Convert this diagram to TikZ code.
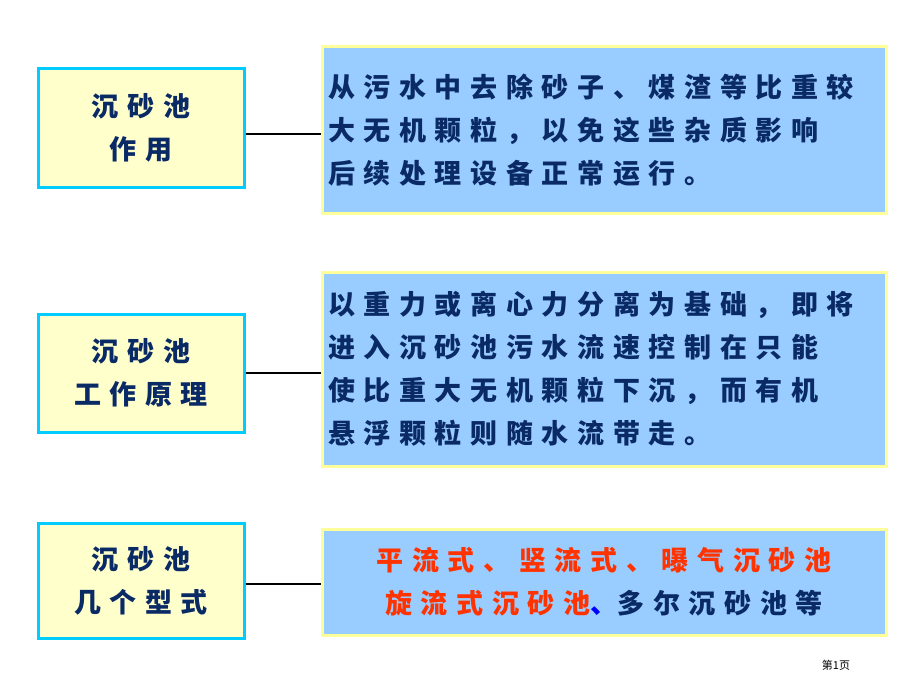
\documentclass[tikz,border=0pt]{standalone}
\usepackage{fontspec}
\newfontfamily\cjk[LetterSpace=32]{Noto Sans CJK SC}
\newfontfamily\cjkp{Noto Sans CJK SC}
\definecolor{navy}{HTML}{0A2A66}
\definecolor{lyel}{HTML}{FFFFCC}
\definecolor{cyanb}{HTML}{00CCFF}
\definecolor{lblue}{HTML}{99CCFF}
\definecolor{yelb}{HTML}{FFFF99}
\definecolor{redt}{HTML}{FF3300}
\begin{document}
\begin{tikzpicture}[x=1pt,y=-1pt,
 lbox/.style={draw=cyanb,line width=3pt,fill=lyel,minimum width=206pt,align=center,font=\cjk\bfseries\fontsize{27}{43}\selectfont,text=navy},
 rbox/.style={draw=yelb,line width=3pt,fill=lblue,minimum width=564pt,align=left,font=\cjk\bfseries\fontsize{27}{43}\selectfont,text=navy},
 conn/.style={line width=2pt,black}]
\useasboundingbox (0,0) rectangle (920,690);
\fill[white] (0,0) rectangle (920,690);
\node[lbox,minimum height=118pt] (l1) at (141,128) {沉砂池\\作用};
\node[lbox,minimum height=118pt] (l2) at (141,373) {沉砂池\\工作原理};
\node[lbox,minimum height=115pt] (l3) at (141,581) {沉砂池\\几个型式};
\node[rbox,minimum height=166pt,text width=552pt] (r1) at (604,130) {从污水中去除砂子、煤渣等比重较\\大无机颗粒，以免这些杂质影响\\后续处理设备正常运行。};
\node[rbox,minimum height=194pt,text width=552pt] (r2) at (604,369) {以重力或离心力分离为基础，即将\\进入沉砂池污水流速控制在只能\\使比重大无机颗粒下沉，而有机\\悬浮颗粒则随水流带走。};
\node[rbox,minimum height=106pt,align=center] (r3) at (604,582) {\textcolor{redt}{平流式、竖流式、曝气沉砂池}\\\textcolor{redt}{旋流式沉砂池}\textcolor{blue}{、}多尔沉砂池等};
\draw[conn] (l1.east|-0,134) -- (r1.west|-0,134);
\draw[conn] (l2.east|-0,373) -- (r2.west|-0,373);
\draw[conn] (l3.east|-0,584) -- (r3.west|-0,584);
\node[font=\cjkp\fontsize{11}{13}\selectfont,text=black] (pg) at (836,665) {第1页};
\end{tikzpicture}
\end{document}
